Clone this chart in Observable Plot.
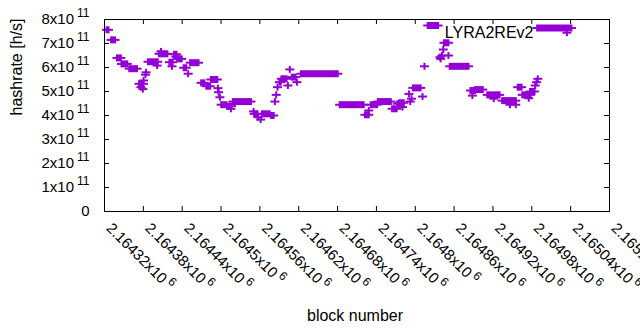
<!DOCTYPE html>
<html><head><meta charset="utf-8">
<script src="https://cdn.jsdelivr.net/npm/d3@7"></script>
<script src="https://cdn.jsdelivr.net/npm/@observablehq/plot@0.6"></script>
<style>
html,body{margin:0;padding:0;background:#fff;}
#chart svg{display:block;}
</style></head><body><div id="chart"></div>
<script>
// Runs of blocks sharing one hashrate value (single points have from === to)
const blockFrom = [
2164324, 2164331, 2164340, 2164347, 2164359, 2164374, 2164377, 2164380, 2164381, 2164384,
2164385, 2164388, 2164402, 2164405, 2164408, 2164421, 2164425, 2164428, 2164431, 2164433,
2164443, 2164450, 2164453, 2164470, 2164478, 2164485, 2164496, 2164497, 2164499, 2164501,
2164510, 2164516, 2164519, 2164551, 2164552, 2164558, 2164562, 2164564, 2164578, 2164584,
2164586, 2164588, 2164591, 2164594, 2164604, 2164607, 2164610, 2164618, 2164624, 2164684,
2164723, 2164729, 2164732, 2164743, 2164765, 2164773, 2164776, 2164781, 2164791, 2164793,
2164795, 2164797, 2164812, 2164815, 2164820, 2164839, 2164840, 2164842, 2164844, 2164845,
2164852, 2164854, 2164886, 2164889, 2164893, 2164912, 2164922, 2164935, 2164947, 2164956,
2164959, 2164966, 2164976, 2164978, 2164986, 2164988, 2164990, 2164989, 2165035];
const blockTo = [
2164327, 2164337, 2164346, 2164356, 2164371, 2164381, 2164377, 2164380, 2164381, 2164384,
2164385, 2164403, 2164402, 2164418, 2164408, 2164426, 2164425, 2164432, 2164431, 2164440,
2164447, 2164450, 2164466, 2164475, 2164484, 2164495, 2164496, 2164497, 2164499, 2164509,
2164517, 2164516, 2164547, 2164551, 2164557, 2164558, 2164562, 2164576, 2164582, 2164584,
2164586, 2164588, 2164593, 2164602, 2164604, 2164607, 2164616, 2164618, 2164681, 2164721,
2164729, 2164729, 2164742, 2164763, 2164772, 2164776, 2164783, 2164781, 2164791, 2164793,
2164795, 2164809, 2164812, 2164815, 2164836, 2164839, 2164840, 2164842, 2164844, 2164852,
2164852, 2164883, 2164893, 2164889, 2164905, 2164931, 2164922, 2164956, 2164947, 2164956,
2164965, 2164979, 2164976, 2164985, 2164986, 2164988, 2164990, 2165042, 2165035];
const hashrate = [
7.57e11, 7.15e11, 6.40e11, 6.15e11, 5.95e11, 5.32e11, 5.18e11, 5.10e11, 5.46e11, 5.70e11,
5.80e11, 6.24e11, 6.08e11, 6.57e11, 6.67e11, 6.22e11, 6.05e11, 6.55e11, 6.45e11, 6.36e11,
5.99e11, 5.74e11, 6.20e11, 5.36e11, 5.22e11, 5.50e11, 5.14e11, 4.97e11, 4.76e11, 4.45e11,
4.39e11, 4.28e11, 4.58e11, 4.17e11, 4.07e11, 3.93e11, 3.83e11, 4.07e11, 4.00e11, 4.58e11,
4.86e11, 5.18e11, 5.39e11, 5.53e11, 5.25e11, 5.92e11, 5.60e11, 5.39e11, 5.74e11, 4.45e11,
4.03e11, 4.21e11, 4.45e11, 4.58e11, 4.28e11, 4.49e11, 4.53e11, 4.35e11, 4.90e11, 4.58e11,
4.70e11, 5.15e11, 4.79e11, 6.05e11, 7.75e11, 6.43e11, 6.36e11, 6.50e11, 6.75e11, 7.03e11,
6.50e11, 6.05e11, 5.04e11, 4.83e11, 5.08e11, 4.86e11, 4.70e11, 4.62e11, 4.45e11, 4.45e11,
5.18e11, 4.86e11, 4.72e11, 5.00e11, 5.25e11, 5.39e11, 5.53e11, 7.65e11, 7.45e11];

const xTickValues = [2164320, 2164380, 2164440, 2164500, 2164560, 2164620, 2164680,
  2164740, 2164800, 2164860, 2164920, 2164980, 2165040, 2165100];
const xTickMantissa = ["2.16432", "2.16438", "2.16444", "2.1645", "2.16456", "2.16462", "2.16468",
  "2.16474", "2.1648", "2.16486", "2.16492", "2.16498", "2.16504", "2.1651"];
const xTickExponent = "6";
const yTickValues = [0, 1e11, 2e11, 3e11, 4e11, 5e11, 6e11, 7e11, 8e11];
const yTickMantissa = ["0", "1", "2", "3", "4", "5", "6", "7", "8"];
const yTickExponent = "11";
const seriesName = "LYRA2REv2";
const xLabel = "block number";
const yLabel = "hashrate [h/s]";

const runs = blockFrom.map((b, i) => ({from: b, to: blockTo[i], v: hashrate[i]}));
const color = "#9400d3";
const W = 640, H = 330, mL = 104, mR = 31, mT = 19, mB = 119;
const fw = W - mL - mR, fh = H - mT - mB;
const font = "'Liberation Sans', Arial, sans-serif";

const chart = Plot.plot({
  width: W, height: H,
  marginLeft: mL, marginRight: mR, marginTop: mT, marginBottom: mB,
  style: {fontFamily: font, fontSize: "15px", background: "white", color: "black", overflow: "visible"},
  x: {domain: [xTickValues[0], xTickValues[xTickValues.length - 1]], axis: null},
  y: {domain: [yTickValues[0], yTickValues[yTickValues.length - 1]], axis: null},
  marks: [
    Plot.ruleY(runs, {x1: "from", x2: "to", y: "v", stroke: color, strokeWidth: 7, insetLeft: -1, insetRight: -1}),
    Plot.ruleY(runs, {x1: "from", x2: "to", y: "v", stroke: color, strokeWidth: 2, insetLeft: -4.5, insetRight: -4.5}),
    Plot.frame({stroke: "black"}),
    Plot.ruleY(yTickValues, {y: d => d, stroke: "black", insetRight: fw - 5}),
    Plot.ruleY(yTickValues, {y: d => d, stroke: "black", insetLeft: fw - 5}),
    Plot.ruleX(xTickValues, {x: d => d, stroke: "black", insetTop: fh - 5}),
    Plot.ruleX(xTickValues, {x: d => d, stroke: "black", insetBottom: fh - 5}),
    Plot.text(yTickValues, {y: d => d, text: (d, i) => d === 0 ? yTickMantissa[i] : yTickMantissa[i] + "x10",
      frameAnchor: "left", textAnchor: "end", lineAnchor: "middle", dx: -15, fontSize: 15}),
    Plot.text(xTickValues, {x: d => d, text: (d, i) => xTickMantissa[i] + "x10",
      frameAnchor: "bottom", rotate: 45, textAnchor: "start", lineAnchor: "bottom", dx: 1, dy: 17.5, fontSize: 15}),
    Plot.text([seriesName], {text: d => d, frameAnchor: "top-right", textAnchor: "end", lineAnchor: "middle", dx: -76, dy: 13, fontSize: 16}),
    Plot.text([yLabel], {text: d => d, frameAnchor: "left", rotate: -90, lineAnchor: "middle", dx: -88, fontSize: 16}),
    Plot.text([xLabel], {text: d => d, frameAnchor: "bottom", lineAnchor: "middle", dx: -2, dy: 104, fontSize: 16})
  ]
});

// superscript exponents on the tick labels (gnuplot enhanced-text style)
const xBase = new Set(xTickMantissa.map(m => m + "x10"));
const yBase = new Set(yTickMantissa.filter(m => m !== "0").map(m => m + "x10"));
chart.querySelectorAll("text").forEach(t => {
  const s = t.textContent;
  let exp = null;
  const rotated = (t.getAttribute("transform") || "").includes("rotate");
  if (rotated && xBase.has(s)) exp = xTickExponent;
  else if (!rotated && yBase.has(s)) exp = yTickExponent;
  if (exp) {
    const ts = document.createElementNS("http://www.w3.org/2000/svg", "tspan");
    ts.setAttribute("dx", "3");
    ts.setAttribute("dy", rotated ? "-6" : "-7");
    ts.setAttribute("font-size", "12");
    ts.textContent = exp;
    t.appendChild(ts);
  }
});

document.getElementById("chart").appendChild(chart);
</script></body></html>
